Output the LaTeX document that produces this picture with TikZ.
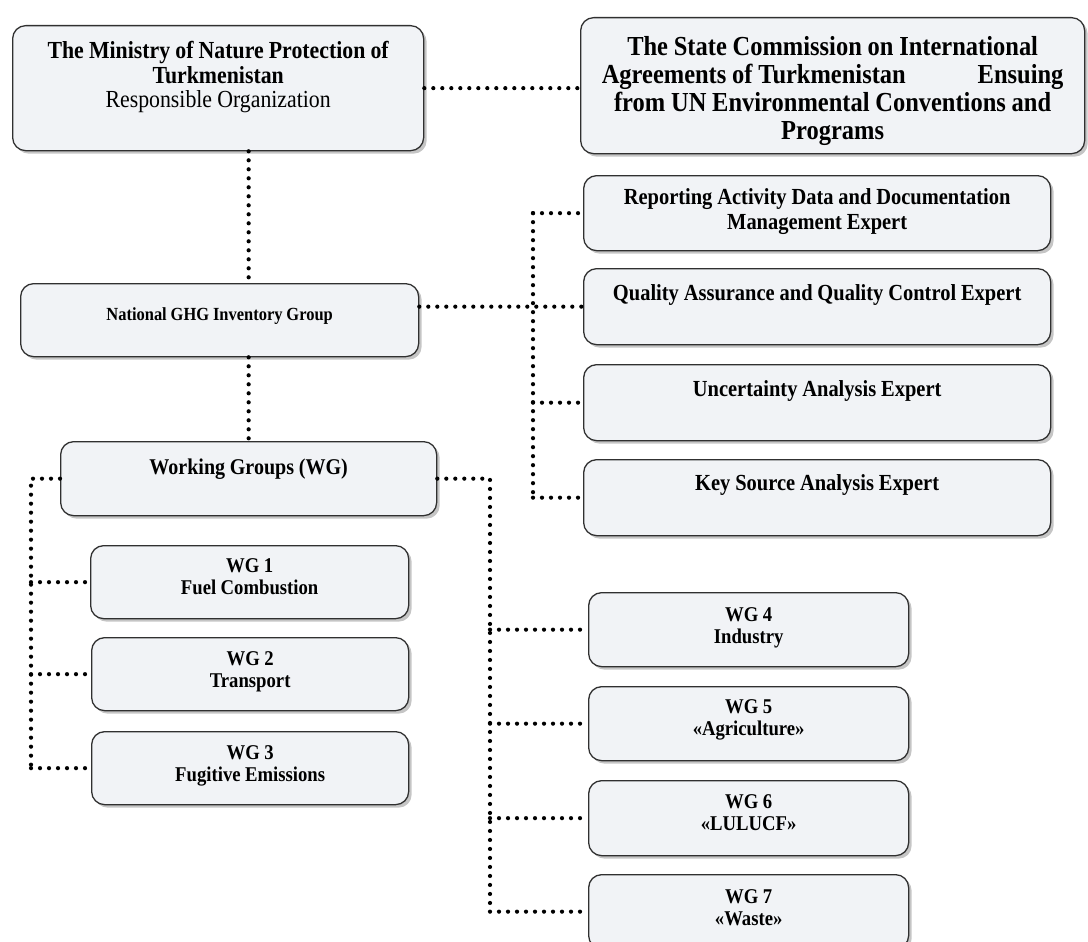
\documentclass[tikz,border=0pt]{standalone}
\usepackage{fontspec}
\setmainfont[FakeStretch=0.89, WordSpace=0.95]{Liberation Serif}
\usetikzlibrary{shadows}

\definecolor{boxfill}{HTML}{F1F3F6}
\definecolor{boxline}{HTML}{303030}

\tikzset{
  orgbox/.style={draw=boxline, line width=1.3pt, fill=boxfill, rounded corners=13pt,
    drop shadow={shadow xshift=3pt, shadow yshift=-3pt, fill=black!45},
    anchor=north west, inner sep=0pt, align=flush center},
  link/.style={line width=4.2pt, dash pattern=on 0pt off 9pt, line cap=round},
  expertfont/.style={font=\fontsize{23}{25}\selectfont\bfseries},
  wgfont/.style={font=\fontsize{21}{22}\selectfont\bfseries},
}

\begin{document}
\begin{tikzpicture}[x=1pt, y=-1pt]
\useasboundingbox (0,0) rectangle (1088,942);


%top level
\node[orgbox, text width=411pt, text height=33pt, text depth=92pt, font=\fontsize{24.5}{24.5}\selectfont\bfseries] (Ministry) at (12,25) {The Ministry of Nature Protection of\\Turkmenistan\\\mdseries Responsible Organization};
\node[orgbox, text width=504pt, text height=38pt, text depth=98pt, font=\fontsize{27.5}{28}\selectfont\bfseries] (Commission) at (580,17) {The State Commission on International\\Agreements of Turkmenistan\hspace{72pt}Ensuing\\from UN Environmental Conventions and\\Programs};


%experts on the right
\node[orgbox, expertfont, text width=467pt, text height=29pt, text depth=46pt] (Reporting) at (583,175) {Reporting Activity Data and Documentation\\Management Expert};
\node[orgbox, expertfont, text width=467pt, text height=32pt, text depth=44pt] (QA) at (583,268) {Quality Assurance and Quality Control Expert};
\node[orgbox, expertfont, text width=467pt, text height=32pt, text depth=44pt] (Uncertainty) at (583,364) {Uncertainty Analysis Expert};
\node[orgbox, expertfont, text width=467pt, text height=31pt, text depth=45pt] (Key) at (583,459) {Key Source Analysis Expert};


%inventory group and working groups
\node[orgbox, text width=398pt, text height=37pt, text depth=36pt, font=\fontsize{18.5}{20}\selectfont\bfseries] (National) at (20,283) {National GHG Inventory Group};
\node[orgbox, text width=376pt, text height=33pt, text depth=41pt, font=\fontsize{22.5}{24}\selectfont\bfseries] (WG) at (60,441) {Working Groups (WG)};

\node[orgbox, wgfont, text width=318pt, text height=27pt, text depth=46pt] (WG1) at (90,545) {WG 1\\Fuel Combustion};
\node[orgbox, wgfont, text width=317pt, text height=28pt, text depth=45pt] (WG2) at (91,637) {WG 2\\Transport};
\node[orgbox, wgfont, text width=317pt, text height=28pt, text depth=45pt] (WG3) at (91,731) {WG 3\\Fugitive Emissions};

\node[orgbox, wgfont, text width=320pt, text height=29pt, text depth=45pt] (WG4) at (588,592) {WG 4\\Industry};
\node[orgbox, wgfont, text width=320pt, text height=27pt, text depth=47pt] (WG5) at (588,686) {WG 5\\«Agriculture»};
\node[orgbox, wgfont, text width=320pt, text height=28pt, text depth=47pt] (WG6) at (588,780) {WG 6\\«LULUCF»};
\node[orgbox, wgfont, text width=320pt, text height=29pt, text depth=45pt] (WG7) at (588,874) {WG 7\\«Waste»};


%bus lines
\coordinate (rbus) at (533,0);
\coordinate (lbus) at (31,0);
\coordinate (wbus) at (490,0);


%dotted connectors
\draw[link] (Ministry.east) -- (Ministry.east -| Commission.west);
\draw[link] (WG.north |- Ministry.south) -- (WG.north |- National.north);
\draw[link] (WG.north |- National.south) -- (WG.north);

\draw[link] (National.east |- QA.west) -- (QA.west);
\draw[link] (rbus |- Reporting.west) -- (rbus |- Key.west);
\foreach \n in {Reporting,Uncertainty,Key}
  \draw[link] (rbus |- \n.west) -- (\n.west);

\draw[link] (WG.west) -- (lbus |- WG.west) -- (lbus |- WG3.west);
\foreach \n in {WG1,WG2,WG3}
  \draw[link] (lbus |- \n.west) -- (\n.west);

\draw[link] (WG.east) -- (wbus |- WG.east) -- (wbus |- WG7.west);
\foreach \n in {WG4,WG5,WG6,WG7}
  \draw[link] (wbus |- \n.west) -- (\n.west);

\end{tikzpicture}
\end{document}
